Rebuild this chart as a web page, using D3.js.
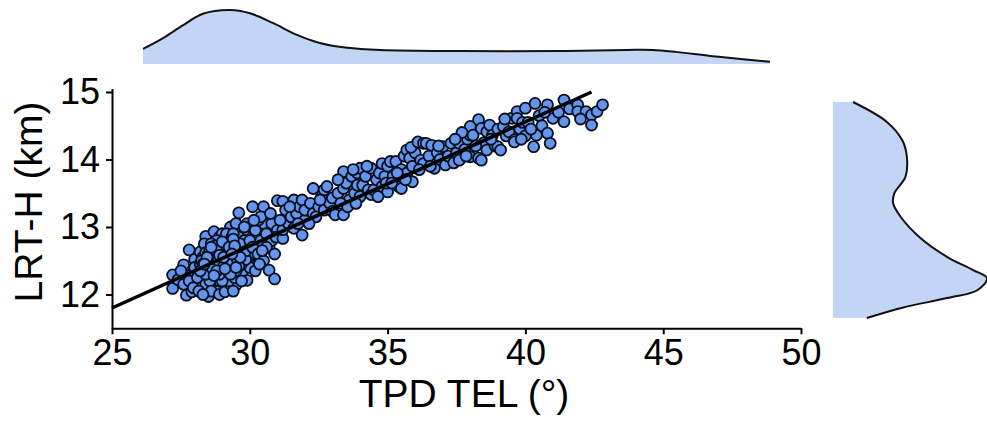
<!DOCTYPE html>
<html lang="en">
<head>
<meta charset="utf-8">
<script src="https://cdn.jsdelivr.net/npm/d3@7"></script>
<style>
  body { margin: 0; background: #fff; }
  svg text { font-family: "Liberation Sans", Arial, sans-serif; fill: #000; }
  .axis path, .axis line { stroke: #000; stroke-width: 2px; }
  .dot { fill: #6495ed; stroke: #08101f; stroke-width: 1.8px; }
</style>
</head>
<body>
<div id="chart"></div>
<script>
// scatter values (TPD TEL in degrees, LRT-H in km)
var tpd = [
  27.2,27.2,27.4,27.6,27.7,27.8,27.9,27.9,27.6,27.5,28.0,27.8,28.0,27.95,
  28.2,28.4,28.5,28.1,28.2,28.3,28.3,28.4,28.5,28.5,28.6,28.6,28.7,28.7,28.7,28.8,28.8,28.8,28.9,28.9,28.9,29.0,29.0,29.0,
  28.15,28.35,28.45,28.55,28.65,28.75,28.85,28.95,28.25,28.6,28.3,28.9,28.7,28.4,28.8,29.0,
  29.1,29.1,29.1,29.2,29.2,29.3,29.3,29.3,29.4,29.4,29.5,29.5,29.5,29.6,29.6,29.6,29.7,29.7,29.8,29.8,29.9,29.9,29.9,30.0,30.0,30.1,
  29.15,29.25,29.35,29.45,29.55,29.65,29.75,29.85,29.95,29.2,29.4,29.7,29.5,29.8,
  28.3,28.5,28.6,28.8,28.9,29.0,29.1,29.2,29.3,29.4,29.5,29.6,29.7,29.8,29.9,30.0,30.2,30.4,28.4,28.7,
  29.0,29.3,29.6,29.9,30.1,28.2,28.5,28.8,29.1,29.4,29.7,30.0,30.3,28.6,29.2,29.5,29.8,30.5,28.9,29.4,
  28.5,28.6,28.7,28.8,28.9,29.0,29.1,29.2,29.3,29.4,29.5,29.6,29.7,29.8,28.55,28.65,28.75,28.85,28.95,29.05,
  29.15,29.25,29.35,29.45,29.55,29.65,29.75,29.85,28.45,28.35,29.0,29.2,29.4,29.6,28.8,28.6,29.9,30.0,30.2,30.4,
  28.7,29.3,29.1,29.5,28.9,29.05,29.25,29.45,29.65,29.35,
  30.1,30.2,30.2,30.3,30.3,30.4,30.5,30.5,30.6,30.7,30.7,30.8,30.8,30.9,31.0,31.0,30.4,30.6,30.9,30.15,30.45,30.35,30.75,30.95,
  31.2,31.2,31.2,31.3,31.4,31.5,31.6,31.6,31.7,31.8,31.9,31.9,32.0,32.0,31.45,31.75,31.1,
  32.2,32.3,32.3,32.5,32.6,32.7,32.7,32.9,33.0,33.0,33.1,32.4,32.8,32.15,32.55,
  33.2,33.4,33.4,33.4,33.5,33.6,33.7,33.8,33.9,33.9,34.0,34.0,33.3,33.55,33.75,33.85,33.2,
  34.1,34.2,34.3,34.4,34.4,34.5,34.6,34.7,34.8,34.8,34.9,35.0,35.0,34.25,34.65,34.95,
  35.1,35.2,35.3,35.4,35.5,35.5,35.6,35.7,35.7,35.8,35.9,35.9,36.0,35.15,35.35,35.65,35.85,
  36.1,36.2,36.3,36.3,36.4,36.5,36.6,36.7,36.8,36.9,37.0,37.1,36.15,36.55,36.85,
  37.2,37.3,37.4,37.5,37.6,37.6,37.8,37.9,38.0,38.0,38.0,37.7,37.45,37.85,
  38.1,38.3,38.3,38.4,38.4,38.5,38.6,38.6,38.7,38.8,38.9,39.0,39.0,38.2,38.75,
  39.1,39.2,39.3,39.4,39.5,39.6,39.6,39.7,39.7,39.8,39.9,40.0,40.0,39.25,39.85,
  40.1,40.3,40.35,40.4,40.5,40.6,40.8,40.8,40.9,41.0,40.2,40.7,
  41.4,41.4,41.6,41.9,41.9,42.2,42.4,42.4,42.6,42.8,41.2,42.0
];
var lrt = [
  12.29,12.09,12.22,12.44,11.99,12.66,12.04,12.30,12.15,12.35,12.52,12.20,12.40,12.10,
  12.63,12.86,11.97,12.25,12.45,12.55,12.35,12.15,12.70,12.48,12.60,12.30,12.93,12.75,12.40,12.05,12.55,12.65,12.20,12.85,12.45,12.35,12.60,12.75,
  12.05,12.75,12.40,12.20,12.50,12.30,12.70,12.55,12.50,12.05,12.00,12.00,12.60,12.62,12.45,12.90,
  12.04,12.45,12.65,12.80,12.30,13.00,12.55,12.15,12.70,12.40,12.14,12.60,12.85,13.21,12.50,12.30,12.75,12.95,12.40,12.60,12.21,13.05,12.80,12.55,12.90,13.30,
  12.90,12.20,12.85,12.25,12.45,12.65,12.35,12.70,12.45,12.55,12.05,12.20,13.05,12.90,
  12.45,12.55,12.40,12.50,12.62,12.45,12.55,12.65,12.40,12.58,12.50,12.70,12.55,12.75,12.60,12.70,12.75,12.95,12.30,12.35,
  12.20,12.75,12.85,12.50,12.85,12.35,12.60,12.80,12.35,12.90,12.50,12.40,12.85,12.75,12.42,12.35,13.00,13.05,12.30,12.48,
  12.45,12.55,12.50,12.60,12.40,12.50,12.60,12.45,12.65,12.50,12.70,12.60,12.45,12.80,12.65,12.38,12.72,12.50,12.68,12.42,
  12.72,12.58,12.48,12.62,12.52,12.75,12.62,12.52,12.55,12.45,12.78,12.35,12.82,12.42,12.35,12.70,12.65,12.80,12.60,12.70,
  12.28,12.30,12.38,12.40,12.58,12.55,12.70,12.72,12.55,12.60,
  12.70,12.35,12.95,12.60,13.10,12.80,13.30,12.50,12.90,12.36,12.69,13.05,12.80,12.23,13.39,12.95,13.15,12.70,12.60,13.10,12.65,12.45,13.20,12.85,
  12.83,12.96,13.38,13.25,13.05,13.15,13.40,12.98,13.20,13.30,12.88,13.40,13.10,13.25,13.30,13.05,13.10,
  13.35,13.57,13.20,13.30,13.45,13.55,13.25,13.35,13.43,13.23,13.18,13.15,13.60,13.05,13.40,
  13.50,13.82,13.18,13.57,13.65,13.40,13.75,13.50,13.80,13.62,13.87,13.45,13.35,13.30,13.85,13.35,13.70,
  13.62,13.75,13.55,13.87,13.48,13.55,13.70,13.80,13.94,13.60,13.75,13.52,13.90,13.90,13.45,13.65,
  13.97,13.75,13.97,13.60,13.57,13.85,14.05,14.14,13.80,14.02,13.67,13.90,14.10,13.65,13.80,13.70,14.18,
  14.26,13.99,14.24,13.94,14.24,14.05,14.21,13.87,14.10,14.00,14.19,13.92,13.85,13.90,14.20,
  14.05,14.24,13.95,14.10,14.24,13.99,14.15,14.30,14.36,14.04,14.49,14.40,14.30,14.05,
  14.36,14.59,14.02,14.46,13.99,14.25,14.41,14.14,14.51,14.36,14.20,14.19,14.45,14.20,14.30,
  14.14,14.49,14.35,14.41,14.61,14.29,14.26,14.71,14.61,14.45,14.55,14.76,14.35,14.60,14.30,
  14.55,14.19,14.83,14.36,14.65,14.50,14.81,14.39,14.24,14.61,14.45,14.70,
  14.88,14.56,14.75,14.81,14.71,14.71,14.66,14.51,14.71,14.81,14.70,14.60
];

// fitted line end points
var fitX = [25, 42.4];
var fitY = [11.8, 15.0];

// marginal density of TPD TEL (relative height)
var topTpd  = [27.2, 27.7, 28.2, 28.69, 29.36, 29.86, 30.43, 31.03, 31.6, 32.28, 33.1, 35.09, 37.57, 39.24, 39.89, 40.49, 41.31, 42.13, 42.8];
var topDens = [0.28, 0.48, 0.72, 0.93, 1.0, 0.94, 0.76, 0.54, 0.39, 0.30, 0.26, 0.24, 0.24, 0.26, 0.26, 0.22, 0.15, 0.09, 0.04];

// marginal density of LRT-H (relative width)
var rightLrt  = [14.88, 14.61, 14.36, 14.13, 13.86, 13.65, 13.51, 13.32, 13.05, 12.78, 12.6, 12.49, 12.33, 12.22, 12.09, 11.95];
var rightDens = [0.13, 0.35, 0.45, 0.48, 0.47, 0.40, 0.39, 0.44, 0.56, 0.74, 0.91, 1.0, 0.94, 0.74, 0.45, 0.22];

var xTicks = [25, 30, 35, 40, 45, 50];
var yTicks = [12, 13, 14, 15];

var W = 987, H = 423;
var svg = d3.select("#chart").append("svg")
    .attr("width", W)
    .attr("height", H);

// main scales
var x = d3.scaleLinear().domain([25, 50]).range([112, 801]);
var y = d3.scaleLinear().domain([11.5, 15.05]).range([328.25, 88.6]);

// top marginal
var tx = d3.scaleLinear().domain([27.2, 42.8]).range([143, 770]);
var ty = d3.scaleLinear().domain([0, 1]).range([64, 10]);
var topData = topTpd.map(function(v, i) { return {v: v, d: topDens[i]}; });

svg.append("path")
    .datum(topData)
    .attr("fill", "#c3d5f5")
    .attr("d", d3.area().curve(d3.curveCatmullRom)
        .x(function(d) { return tx(d.v); })
        .y0(ty(0))
        .y1(function(d) { return ty(d.d); }));
svg.append("path")
    .datum(topData)
    .attr("fill", "none")
    .attr("stroke", "#111")
    .attr("stroke-width", 2)
    .attr("d", d3.line().curve(d3.curveCatmullRom)
        .x(function(d) { return tx(d.v); })
        .y(function(d) { return ty(d.d); }));

// right marginal
var ry = d3.scaleLinear().domain([11.95, 14.88]).range([318, 102]);
var rx = d3.scaleLinear().domain([0, 1]).range([833, 987]);
var rightData = rightLrt.map(function(v, i) { return {v: v, d: rightDens[i]}; });

svg.append("path")
    .datum(rightData)
    .attr("fill", "#c3d5f5")
    .attr("d", d3.area().curve(d3.curveCatmullRom)
        .y(function(d) { return ry(d.v); })
        .x0(rx(0))
        .x1(function(d) { return rx(d.d); }));
svg.append("path")
    .datum(rightData)
    .attr("fill", "none")
    .attr("stroke", "#111")
    .attr("stroke-width", 2)
    .attr("d", d3.line().curve(d3.curveCatmullRom)
        .x(function(d) { return rx(d.d); })
        .y(function(d) { return ry(d.v); }));

// points
var pts = tpd.map(function(v, i) { return {x: v, y: lrt[i]}; });
svg.append("g")
    .selectAll("circle")
    .data(pts)
    .enter()
    .append("circle")
    .attr("class", "dot")
    .attr("cx", function(d) { return x(d.x); })
    .attr("cy", function(d) { return y(d.y); })
    .attr("r", 5.5);

// regression line
svg.append("line")
    .attr("x1", x(fitX[0])).attr("y1", y(fitY[0]))
    .attr("x2", x(fitX[1])).attr("y2", y(fitY[1]))
    .attr("stroke", "#000")
    .attr("stroke-width", 3.5);

// axes
var gx = svg.append("g")
    .attr("class", "axis")
    .attr("transform", "translate(0," + y(11.5) + ")")
    .call(d3.axisBottom(x).tickValues(xTicks).tickSizeOuter(0).tickPadding(5));
var gy = svg.append("g")
    .attr("class", "axis")
    .attr("transform", "translate(" + x(25) + ",0)")
    .call(d3.axisLeft(y).tickValues(yTicks).tickFormat(d3.format("d")).tickSizeOuter(0).tickPadding(6));
gx.selectAll("text").style("font-size", "36px");
gy.selectAll("text").style("font-size", "36px");

// axis titles
svg.append("text")
    .attr("x", 464)
    .attr("y", 407)
    .attr("text-anchor", "middle")
    .style("font-size", "39px")
    .text("TPD TEL (°)");
svg.append("text")
    .attr("transform", "translate(42,202) rotate(-90)")
    .attr("text-anchor", "middle")
    .style("font-size", "39px")
    .text("LRT-H (km)");
</script>
</body>
</html>
